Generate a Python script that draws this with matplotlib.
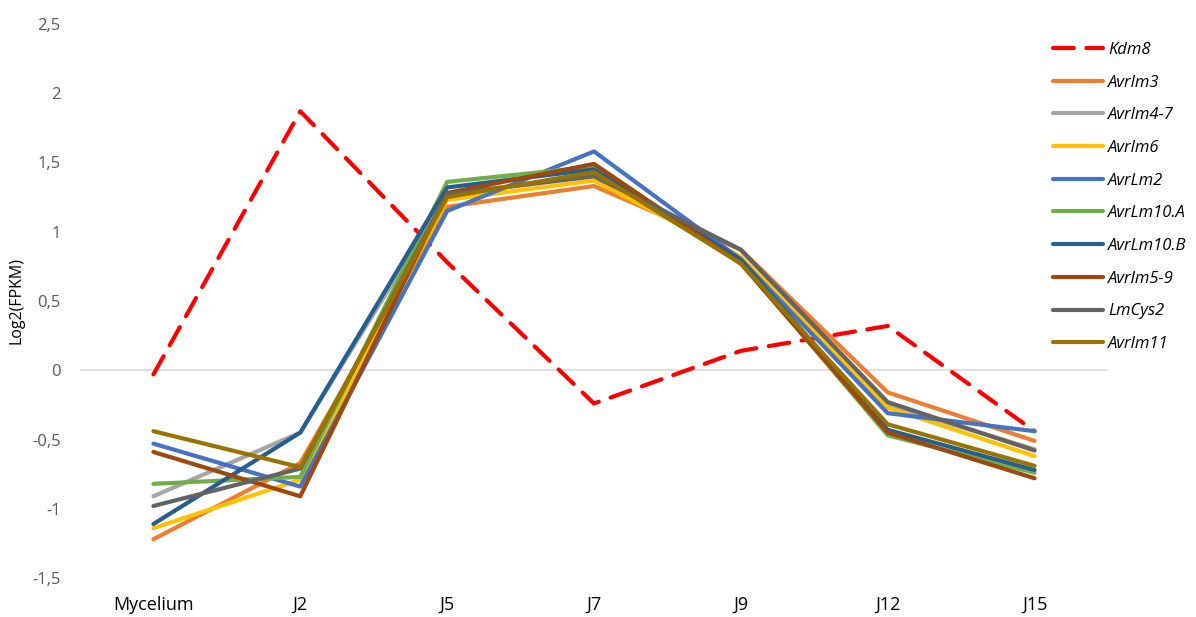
import matplotlib
matplotlib.use("Agg")
import matplotlib.pyplot as plt

plt.rcParams['font.family'] = ['Open Sans', 'DejaVu Sans']

# ===== data =====
stages = ["Mycelium", "J2", "J5", "J7", "J9", "J12", "J15"]

kdm8 = [-0.03, 1.87, 0.78, -0.24, 0.14, 0.32, -0.44]
avrlm3 = [-1.22, -0.67, 1.18, 1.33, 0.87, -0.16, -0.51]
avrlm4_7 = [-0.91, -0.45, 1.27, 1.41, 0.87, -0.25, -0.57]
avrlm6 = [-1.14, -0.79, 1.23, 1.37, 0.82, -0.27, -0.62]
avrlm2 = [-0.53, -0.84, 1.15, 1.58, 0.80, -0.31, -0.44]
avrlm10a = [-0.82, -0.77, 1.36, 1.47, 0.78, -0.47, -0.74]
avrlm10b = [-1.11, -0.45, 1.32, 1.45, 0.80, -0.43, -0.72]
avrlm5_9 = [-0.59, -0.91, 1.28, 1.49, 0.77, -0.45, -0.78]
lmcys2 = [-0.98, -0.71, 1.27, 1.40, 0.87, -0.23, -0.58]
avrlm11 = [-0.44, -0.70, 1.25, 1.43, 0.77, -0.39, -0.69]

series = [
    ("Avrlm3", avrlm3, "#ED7D31"),
    ("Avrlm4-7", avrlm4_7, "#A5A5A5"),
    ("Avrlm6", avrlm6, "#FFC000"),
    ("AvrLm2", avrlm2, "#4472C4"),
    ("AvrLm10.A", avrlm10a, "#70AD47"),
    ("AvrLm10.B", avrlm10b, "#255E91"),
    ("Avrlm5-9", avrlm5_9, "#9E480E"),
    ("LmCys2", lmcys2, "#636363"),
    ("Avrlm11", avrlm11, "#997300"),
]

fig = plt.figure(figsize=(11.96, 6.17), dpi=100)
ax = fig.add_axes([80/1196, 1-578/617, 1028/1196, 554/617])

x = list(range(len(stages)))
ax.plot(x, kdm8, color="#FF0000", lw=3, dashes=(5, 3),
        dash_capstyle="round", label="Kdm8")
for name, vals, col in series:
    ax.plot(x, vals, color=col, lw=3, solid_capstyle="round", label=name)

ax.set_xlim(-0.5, len(stages) - 0.5)
ax.set_ylim(-1.5, 2.5)
ax.axhline(0, color="#D9D9D9", lw=1.2, zorder=0)

yt = [-1.5, -1, -0.5, 0, 0.5, 1, 1.5, 2, 2.5]
ax.set_yticks(yt)
ax.set_yticklabels([f"{v:g}".replace(".", ",") for v in yt])
ax.set_xticks(x)
ax.set_xticklabels(stages)
ax.tick_params(axis="y", length=0, pad=14, labelsize=12, labelcolor="#595959")
ax.tick_params(axis="x", length=0, pad=13, labelsize=13, labelcolor="#000000")
for s in ax.spines.values():
    s.set_visible(False)

ax.set_ylabel("Log2(FPKM)", fontsize=11.5, color="#000000")
ax.yaxis.set_label_coords(-0.054, 0.5)

leg = ax.legend(loc="upper left", bbox_to_anchor=(1038/1196, 1-27/617),
                bbox_transform=fig.transFigure, frameon=False,
                handlelength=3.0, handletextpad=0.3, labelspacing=1.0,
                prop={"size": 12, "style": "italic"})

fig.savefig("out.png", dpi=100)
